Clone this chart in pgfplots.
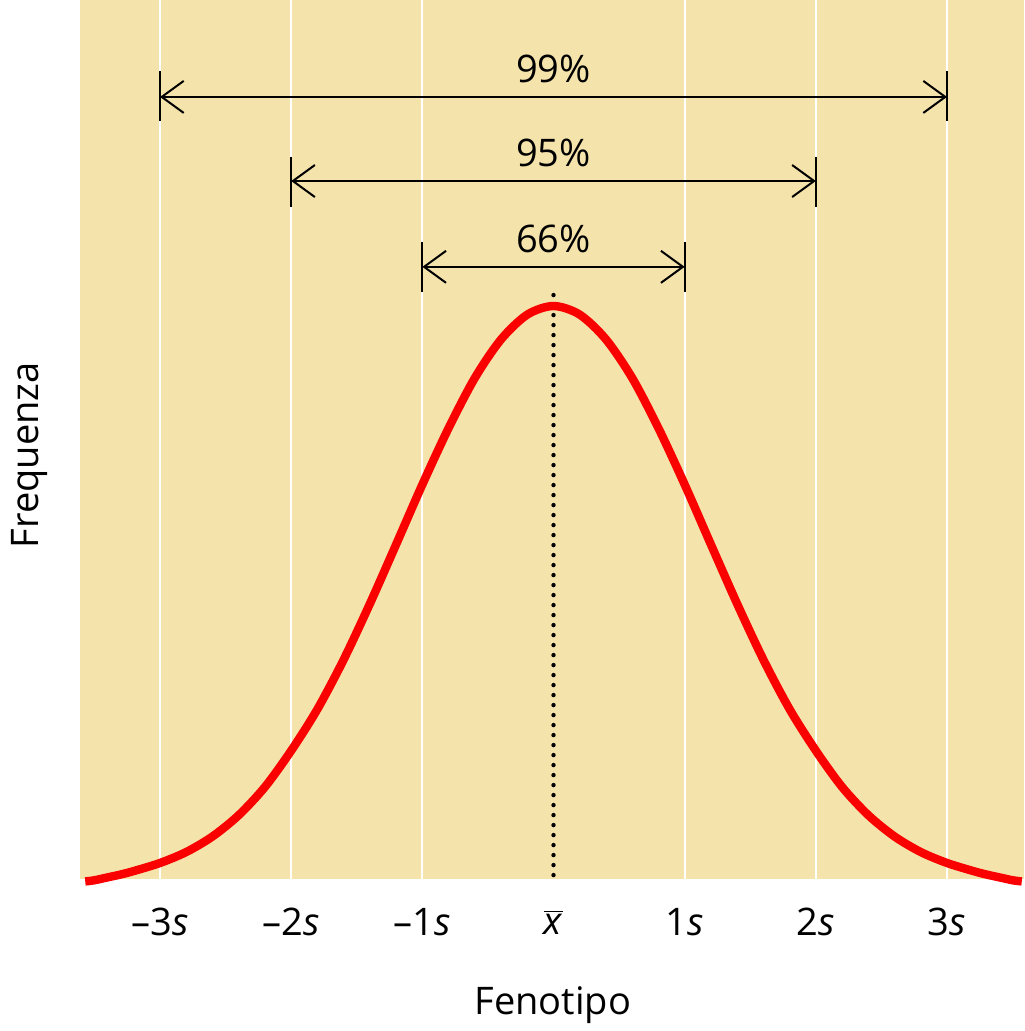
\documentclass[border=0pt]{standalone}
\usepackage{pgfplots}
\pgfplotsset{compat=1.18}
\usepackage{fontspec}
\setmainfont{Open Sans}
\usetikzlibrary{arrows.meta}
\definecolor{beige}{RGB}{245,227,172}
\definecolor{curvered}{RGB}{250,0,0}
\newcommand{\fs}{\fontsize{19}{22}\selectfont}
\begin{document}
\fs
\begin{tikzpicture}
\path[use as bounding box] (-40pt,-76pt) rectangle (472pt,439.5pt);
\begin{axis}[
  at={(0,0)}, anchor=south west,
  scale only axis, width=472pt, height=439.5pt,
  xmin=-3.61, xmax=3.587, ymin=0.0052, ymax=1.5313,
  clip=false,
  axis line style={draw=none},
  axis background/.style={fill=beige},
  ytick=\empty,
  xtick={-3,-2,-1,0,1,2,3},
  xticklabels={–3\textit{s},–2\textit{s},–1\textit{s},$\overline{\mbox{\textit{x}}}$,1\textit{s},2\textit{s},3\textit{s}},
  major tick length=0pt,
  xticklabel style={anchor=center, yshift=-21.5pt, font=\fs},
  xlabel={Fenotipo}, ylabel={Frequenza},
  xlabel style={at={(axis description cs:0.501,-0.1433)}, anchor=center, font=\fs},
  ylabel style={at={(axis description cs:-0.053,0.482)}, anchor=center, rotate=0, font=\fs},
]
% white vertical guides
\foreach \xx in {-3,-2,-1,1,2,3}{
  \edef\tmp{\noexpand\draw[white, line width=1pt] (axis cs:\xx,0.0052) -- (axis cs:\xx,1.5313);}
  \tmp
}
% dotted mean line
\draw[black, line width=2.2pt, line cap=round, dash pattern=on 0pt off 5pt] (axis cs:0,0.012) -- (axis cs:0,1.036);
\addplot[curvered, line width=4.2pt, smooth] table {
x y
-3.57 0.001
-3.5 0.003
-3.4 0.008
-3.3 0.013
-3.2 0.019
-3.0 0.033
-2.8 0.052
-2.6 0.079
-2.4 0.116
-2.2 0.165
-2.0 0.228
-1.8 0.300
-1.6 0.386
-1.4 0.483
-1.2 0.586
-1.0 0.690
-0.8 0.788
-0.6 0.875
-0.4 0.942
-0.2 0.985
0.0 1.000
0.2 0.985
0.4 0.942
0.6 0.875
0.8 0.788
1.0 0.690
1.2 0.586
1.4 0.483
1.6 0.386
1.8 0.300
2.0 0.228
2.2 0.165
2.4 0.116
2.6 0.079
2.8 0.052
3.0 0.033
3.2 0.019
3.3 0.013
3.4 0.008
3.5 0.003
3.57 0.001
};
% range arrows
\draw[line width=1pt, {Straight Barb[length=11pt,width=16pt]}-{Straight Barb[length=11pt,width=16pt]}] (axis cs:-3,1.363) -- (axis cs:3,1.363);
\draw[line width=1pt] (axis cs:-3,1.321) -- (axis cs:-3,1.408);
\draw[line width=1pt] (axis cs:3,1.321) -- (axis cs:3,1.408);
\node at (axis cs:0,1.412) {99\%};
\draw[line width=1pt, {Straight Barb[length=11pt,width=16pt]}-{Straight Barb[length=11pt,width=16pt]}] (axis cs:-2,1.217) -- (axis cs:2,1.217);
\draw[line width=1pt] (axis cs:-2,1.172) -- (axis cs:-2,1.259);
\draw[line width=1pt] (axis cs:2,1.172) -- (axis cs:2,1.259);
\node at (axis cs:0,1.266) {95\%};
\draw[line width=1pt, {Straight Barb[length=11pt,width=16pt]}-{Straight Barb[length=11pt,width=16pt]}] (axis cs:-1,1.068) -- (axis cs:1,1.068);
\draw[line width=1pt] (axis cs:-1,1.024) -- (axis cs:-1,1.111);
\draw[line width=1pt] (axis cs:1,1.024) -- (axis cs:1,1.111);
\node at (axis cs:0,1.117) {66\%};
\end{axis}
\end{tikzpicture}
\end{document}
